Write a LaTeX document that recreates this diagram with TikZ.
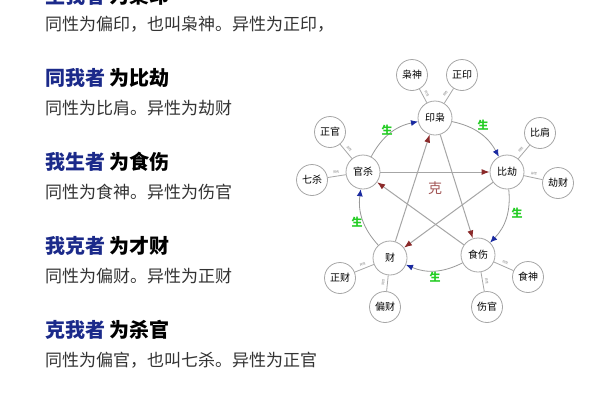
\documentclass[tikz,border=0pt]{standalone}
\usepackage{fontspec}
\setmainfont{Noto Sans CJK SC}
\usetikzlibrary{arrows.meta}
\definecolor{hb}{HTML}{1B2A8A}
\definecolor{sub}{HTML}{333333}
\definecolor{ke}{HTML}{8B2A2A}
\definecolor{sheng}{HTML}{22CC22}
\definecolor{gb}{HTML}{1A2AA0}
\begin{document}
\begin{tikzpicture}[x=1pt,y=-1pt,
  head/.style={anchor=west,font=\fontsize{20}{22}\selectfont\bfseries,inner sep=0},
  subt/.style={anchor=west,font=\fontsize{17}{19}\selectfont,text=sub,inner sep=0},
  main/.style={circle,draw=gray!70,line width=0.8pt,minimum size=34pt,inner sep=0,font=\fontsize{10}{10}\selectfont},
  outer/.style={circle,draw=gray!70,line width=0.8pt,minimum size=31pt,inner sep=0,font=\fontsize{10}{10}\selectfont},
  spoke/.style={draw=gray!70,line width=0.8pt},
  gen/.style={draw=gray!80,line width=0.8pt,-{Latex[length=7pt,width=6pt,color=gb]}},
  kel/.style={draw=gray!70,line width=1pt,-{Latex[length=8pt,width=6pt,color=ke]}},
  sh/.style={text=sheng,font=\fontsize{11}{11}\selectfont\bfseries},
  tiny/.style={font=\fontsize{3}{3}\selectfont,text=gray}]
\path[use as bounding box,fill=white] (0,0) rectangle (600,400);
\clip (0,0) rectangle (600,400);
% left text
\node[head] (h1) at (45,-4) {\textcolor{hb}{生我者} 为枭印};
\node[subt] (s1) at (45,24) {同性为偏印，也叫枭神。异性为正印，};
\node[head] (h2) at (45,78) {\textcolor{hb}{同我者} 为比劫};
\node[subt] (s2) at (45,108) {同性为比肩。异性为劫财};
\node[head] (h3) at (45,162) {\textcolor{hb}{我生者} 为食伤};
\node[subt] (s3) at (45,192) {同性为食神。异性为伤官};
\node[head] (h4) at (45,246) {\textcolor{hb}{我克者} 为才财};
\node[subt] (s4) at (45,276) {同性为偏财。异性为正财};
\node[head] (h5) at (45,330) {\textcolor{hb}{克我者} 为杀官};
\node[subt] (s5) at (45,360) {同性为偏官，也叫七杀。异性为正官};
% main
\node[main] (yin) at (435,118) {印枭};
\node[main] (bi) at (507,172) {比劫};
\node[main] (shi) at (478,255) {食伤};
\node[main] (cai) at (390,258) {财};
\node[main] (guan) at (363,172) {官杀};
% outer
\node[outer] (o1) at (412,75) {枭神};
\node[outer] (o2) at (462,75) {正印};
\node[outer] (o3) at (540,133) {比肩};
\node[outer] (o4) at (558,183) {劫财};
\node[outer] (o5) at (528,277) {食神};
\node[outer] (o6) at (487,307) {伤官};
\node[outer] (o7) at (385,307) {偏财};
\node[outer] (o8) at (340,278) {正财};
\node[outer] (o9) at (312,180) {七杀};
\node[outer] (o10) at (330,132) {正官};
\foreach \a/\b/\t in {yin/o1/同性,yin/o2/异性,bi/o3/同性,bi/o4/异性,shi/o5/同性,shi/o6/异性,cai/o7/同性,cai/o8/异性,guan/o9/同性,guan/o10/异性}
  \draw[spoke] (\a) -- node[tiny,sloped,above=-1pt]{\t} (\b);
% sheng arcs
\draw[gen] (guan) to[bend left=25] (yin);
\draw[gen] (yin) to[bend left=25] (bi);
\draw[gen] (bi) to[bend left=25] (shi);
\draw[gen] (shi) to[bend left=25] (cai);
\draw[gen] (cai) to[bend left=25] (guan);
% ke star
\draw[kel] (guan) -- (bi);
\draw[kel] (bi) -- (cai);
\draw[kel] (cai) -- (yin);
\draw[kel] (yin) -- (shi);
\draw[kel] (shi) -- (guan);
\node[text=ke!80,font=\fontsize{14}{14}\selectfont] (ke) at (435,188) {克};
\node[sh] (g1) at (387,130) {生};
\node[sh] (g2) at (483,125) {生};
\node[sh] (g3) at (517,213) {生};
\node[sh] (g4) at (435,277) {生};
\node[sh] (g5) at (357,222) {生};
\end{tikzpicture}
\end{document}
